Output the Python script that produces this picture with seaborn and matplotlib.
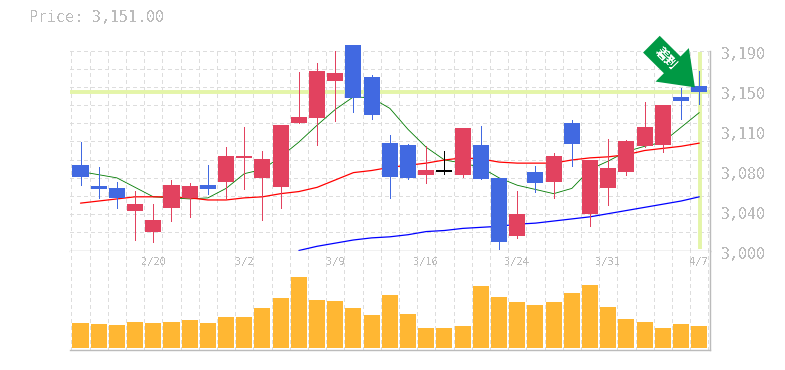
import numpy as np
import pandas as pd
import seaborn as sns
import matplotlib.pyplot as plt
from matplotlib.transforms import ScaledTranslation

# daily prices
open_p = [3081, 3061, 3059, 3038, 3018, 3040, 3050, 3062, 3065, 3088, 3069, 3060,
          3121, 3126, 3161, 3195, 3165, 3102, 3100, 3072, 3075, 3072, 3100, 3069,
          3014, 3075, 3065, 3121, 3035, 3059, 3075, 3099, 3100, 3146, 3156]
close_p = [3070, 3058, 3050, 3044, 3029, 3062, 3061, 3058, 3090, 3090, 3087, 3119,
           3127, 3171, 3169, 3145, 3129, 3070, 3069, 3076, 3075, 3116, 3068, 3008,
           3035, 3064, 3090, 3101, 3086, 3078, 3104, 3117, 3138, 3142, 3151]
high_p = [3103, 3079, 3065, 3057, 3044, 3067, 3064, 3081, 3098, 3117, 3095, 3119,
          3170, 3178, 3190, 3195, 3167, 3110, 3101, 3099, 3095, 3116, 3118, 3069,
          3057, 3080, 3093, 3124, 3086, 3106, 3105, 3141, 3138, 3154, 3171]
low_p = [3062, 3050, 3040, 3010, 3008, 3028, 3032, 3054, 3050, 3058, 3029, 3040,
         3121, 3100, 3123, 3132, 3125, 3050, 3068, 3064, 3073, 3070, 3068, 3001,
         3012, 3056, 3050, 3080, 3023, 3043, 3072, 3098, 3094, 3125, 3139]

ma_short = [3075, 3072, 3069, 3060, 3051, 3050, 3049, 3050, 3059, 3073, 3077, 3089,
            3103, 3119, 3134, 3146, 3145, 3135, 3115, 3098, 3086, 3083, 3079, 3069,
            3062, 3058, 3054, 3059, 3077, 3085, 3094, 3099, 3103, 3117, 3131]
ma_mid = [3045, 3047, 3049, 3051, 3051, 3051, 3050, 3048, 3048, 3050, 3051, 3054,
          3056, 3060, 3067, 3074, 3076, 3079, 3081, 3083, 3086, 3088, 3087, 3084,
          3083, 3083, 3083, 3086, 3088, 3089, 3091, 3095, 3097, 3099, 3102]
ma_long = [np.nan] * 12 + [3000, 3004, 3007, 3010, 3012, 3013, 3015, 3018, 3019, 3021,
                           3022, 3023, 3025, 3026, 3028, 3030, 3032, 3035, 3038, 3041,
                           3044, 3047, 3051]

volume = [2500, 2400, 2300, 2600, 2500, 2600, 2800, 2500, 3100, 3100, 4000, 5000,
          7100, 4800, 4700, 4000, 3300, 5300, 3400, 2000, 2000, 2200, 6200, 5100,
          4600, 4300, 4600, 5500, 6300, 4100, 2900, 2600, 2000, 2400, 2200]

date_pos = [4, 9, 14, 19, 24, 29, 34]
date_labels = ['2/20', '3/2', '3/9', '3/16', '3/24', '3/31', '4/7']
price_ticks = [3000, 3038, 3076, 3114, 3152, 3190]
price_labels = ['3,000', '3,040', '3,080', '3,110', '3,150', '3,190']
last_price = 3151
title = 'Price: 3,151.00'
arrow_text = '着到'

UP = '#e2425f'
DOWN = '#4169e1'
GRID = '#dddddd'
AXIS = '#bbbbbb'
MARK = '#e4f5a8'
TXT = '#bbbbbb'

sns.set_style('white')
plt.rcParams['font.family'] = ['DejaVu Sans Mono', 'DejaVu Sans']
plt.rcParams['text.antialiased'] = False

W, H = 785, 370
fig = plt.figure(figsize=(W / 100, H / 100), dpi=100)
ax = fig.add_axes([70 / W, 1 - 250.5 / H, 640 / W, 200 / H])
ax_v = fig.add_axes([70 / W, 1 - 349.5 / H, 640 / W, 99 / H], sharex=ax)

df = pd.DataFrame({'day': np.arange(len(open_p)), 'open': open_p, 'close': close_p,
                   'high': high_p, 'low': low_p, 'short': ma_short, 'mid': ma_mid,
                   'long': ma_long, 'volume': volume})

# volume panel
sns.barplot(data=df, x='day', y='volume', ax=ax_v, color='#ffb733', saturation=1,
            width=0.88, native_scale=True, zorder=3)
for p in ax_v.patches:
    p.set_antialiased(False)
    p.set_linewidth(0)

x0, x1 = -0.577, 34.59
grid_x = [x0 + 0.03] + list(np.arange(len(df)) + 0.5)
grid_y = np.linspace(3000, 3190, 12)[1:]

for a in (ax, ax_v):
    a.set_xlim(x0, x1)
    a.set_xticks(grid_x, minor=True)
    a.set_xticks([])
    a.grid(True, which='minor', axis='x', color=GRID, lw=0.72, ls=(0, (3, 3)), antialiased=False)
    a.set_axisbelow(True)
    a.set_xlabel('')
    a.set_ylabel('')
    a.tick_params(which='both', length=0, labelbottom=False)
    a.spines['left'].set_visible(False)
    a.spines['top'].set_visible(False)
    for s in ('right', 'bottom'):
        a.spines[s].set_color(AXIS)
        a.spines[s].set_linewidth(1)

ax_v.set_ylim(-150, 9750)
ax_v.set_yticks([])
for pos, lab in zip(date_pos, date_labels):
    ax_v.text(pos, 8600, lab, color=TXT, fontsize=7.5, ha='center', va='center')

# price panel
ax.set_ylim(3000, 3190)
ax.set_yticks(list(grid_y[:-1]) + [3189.5], minor=True)
ax.grid(True, which='minor', axis='y', color=GRID, lw=0.72, ls=(0, (3, 3)), antialiased=False)
ax.yaxis.tick_right()
ax.set_yticks(price_ticks, price_labels)
ax.tick_params(axis='y', which='major', pad=8, labelsize=10.8, labelcolor=TXT, labelright=True)
ax.tick_params(axis='y', which='minor', labelright=False)
shift = ScaledTranslation(0, -1.5 / 72, fig.dpi_scale_trans)
for lab in ax.get_yticklabels():
    lab.set_transform(lab.get_transform() + shift)

ax.axhline(last_price, color=MARK, lw=2.8, zorder=1.5)
ax.vlines(df['day'].iloc[-1] + 0.05, 3001, 3189, color=MARK, lw=2.8, zorder=1.5)

sns.lineplot(data=df, x='day', y='short', ax=ax, color='#007a00', lw=0.6, errorbar=None, zorder=2)
sns.lineplot(data=df, x='day', y='mid', ax=ax, color='#ff0000', lw=0.9, errorbar=None, zorder=2)
sns.lineplot(data=df, x='day', y='long', ax=ax, color='#0000ff', lw=0.9, errorbar=None, zorder=2)
ax.set_xlabel('')
ax.set_ylabel('')

# candles
colors = [UP if c > o else DOWN if c < o else 'black' for o, c in zip(df['open'], df['close'])]
ax.vlines(df['day'], df['low'], df['high'], colors=colors, lw=0.6, zorder=3,
          antialiased=False, clip_on=False)
bottoms = df[['open', 'close']].min(axis=1)
heights = (df['close'] - df['open']).abs().clip(lower=1)
ax.bar(df['day'], heights, bottom=bottoms, width=0.88, color=colors, linewidth=0,
       zorder=3.1, antialiased=False, clip_on=False)

# signal arrow pointing at the last candle
ax.annotate('', xy=(33.76, 3155), xytext=(31.37, 3196), annotation_clip=False, zorder=5,
            arrowprops=dict(facecolor='#009944', edgecolor='none', width=17, headwidth=34,
                            headlength=23, shrink=0, linewidth=0, clip_on=False))
ax.text(32.17, 3182, arrow_text, color='white', fontsize=9, fontweight='bold', rotation=-45,
        rotation_mode='anchor', ha='center', va='center', zorder=6, clip_on=False,
        family=['Noto Sans CJK JP', 'DejaVu Sans'])

fig.text(29 / W, 1 - 18 / H, title, color=TXT, fontsize=10.8, ha='left', va='center')

fig.savefig('out.png', dpi=100)
